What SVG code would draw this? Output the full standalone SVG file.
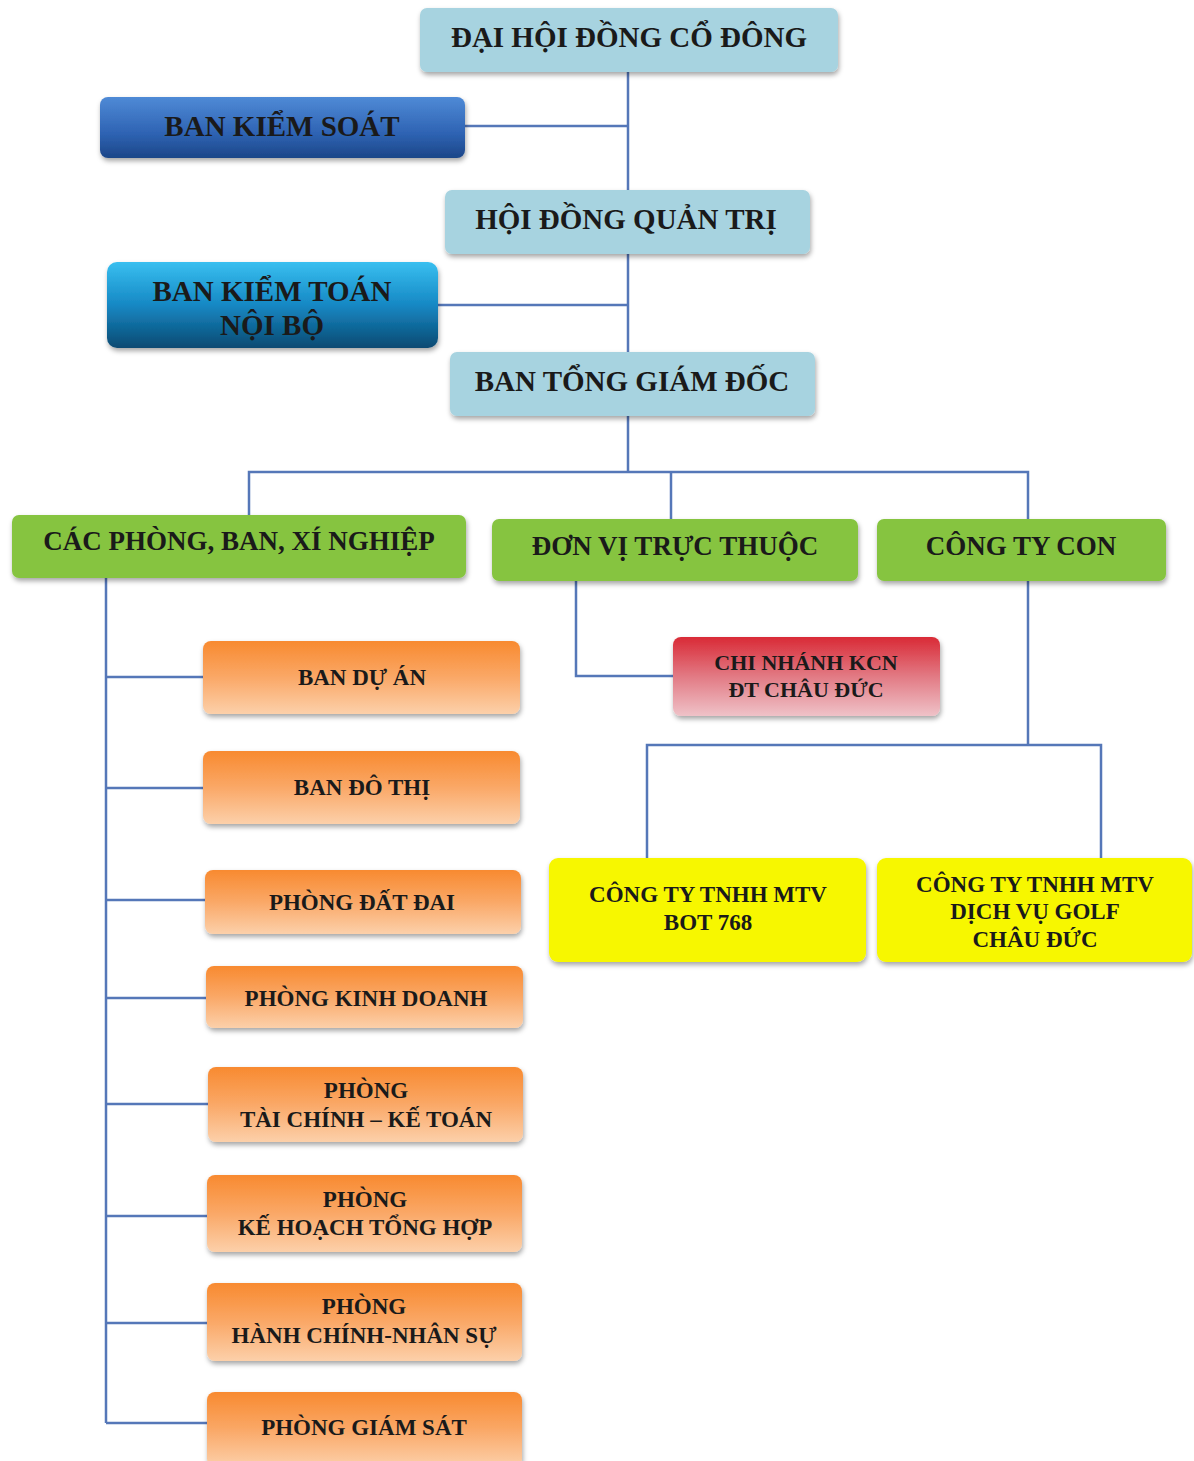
<svg xmlns="http://www.w3.org/2000/svg" width="1194" height="1461" viewBox="0 0 1194 1461">
<defs>
<filter id="sh" x="-10%" y="-20%" width="120%" height="150%">
<feDropShadow dx="1" dy="3" stdDeviation="2.5" flood-color="#000" flood-opacity="0.35"/>
</filter>
<linearGradient id="gBlue1" x1="0" y1="0" x2="0" y2="1">
<stop offset="0" stop-color="#4f8ad6"/><stop offset="0.6" stop-color="#2e63b3"/><stop offset="1" stop-color="#1c4688"/>
</linearGradient>
<linearGradient id="gBlue2" x1="0" y1="0" x2="0" y2="1">
<stop offset="0" stop-color="#38bff0"/><stop offset="0.5" stop-color="#1688c4"/><stop offset="1" stop-color="#0b4a72"/>
</linearGradient>
<linearGradient id="gOrange" x1="0" y1="0" x2="0" y2="1">
<stop offset="0" stop-color="#f88a30"/><stop offset="0.5" stop-color="#faa867"/><stop offset="1" stop-color="#fcd0aa"/>
</linearGradient>
<linearGradient id="gRed" x1="0" y1="0" x2="0" y2="1">
<stop offset="0" stop-color="#d92a36"/><stop offset="0.5" stop-color="#e27a84"/><stop offset="1" stop-color="#efc2c8"/>
</linearGradient>
<style>
.lb{fill:#a7d3e0;filter:url(#sh)}
.gr{fill:#86c441;filter:url(#sh)}
.or{fill:url(#gOrange);filter:url(#sh)}
.ye{fill:#f7f700;filter:url(#sh)}
.t{font-family:"Liberation Serif","Times New Roman",serif;font-weight:bold;fill:#1a1a1a;text-anchor:middle}
.t29{font-size:29px}
.t27{font-size:27px}
.t23{font-size:23px}
.t22{font-size:22px}
.ln{fill:none;stroke:#5577b8;stroke-width:2.5}
</style>
</defs>
<rect width="1194" height="1461" fill="#ffffff"/>

<g id="connectors">
<path class="ln" d="M628 72 V472"/>
<path class="ln" d="M465 126 H628"/>
<path class="ln" d="M438 305 H628"/>
<path class="ln" d="M249 516 V472 H1028 V520"/>
<path class="ln" d="M671 472 V520"/>
<path class="ln" d="M106 578 V1423"/>
<path class="ln" d="M106 677 H204"/>
<path class="ln" d="M106 788 H204"/>
<path class="ln" d="M106 900 H206"/>
<path class="ln" d="M106 998 H207"/>
<path class="ln" d="M106 1104 H209"/>
<path class="ln" d="M106 1216 H208"/>
<path class="ln" d="M106 1323 H208"/>
<path class="ln" d="M106 1423 H208"/>
<path class="ln" d="M576 581 V676 H674"/>
<path class="ln" d="M1028 581 V745"/>
<path class="ln" d="M647 858 V745 H1101 V858"/>
</g>

<g id="dai-hoi">
<rect class="lb" x="420" y="8" width="418" height="64" rx="7"/>
<text class="t t29" x="629" y="47">ĐẠI HỘI ĐỒNG CỔ ĐÔNG</text>
</g>
<g id="ban-kiem-soat">
<rect x="100" y="97" width="365" height="61" rx="8" fill="url(#gBlue1)" filter="url(#sh)"/>
<text class="t t29" x="282" y="136">BAN KIỂM SOÁT</text>
</g>
<g id="hdqt">
<rect class="lb" x="445" y="190" width="365" height="64" rx="7"/>
<text class="t t29" x="626" y="229">HỘI ĐỒNG QUẢN TRỊ</text>
</g>
<g id="ban-kiem-toan">
<rect x="107" y="262" width="331" height="86" rx="10" fill="url(#gBlue2)" filter="url(#sh)"/>
<text class="t t29" x="272" y="301">BAN KIỂM TOÁN</text>
<text class="t t29" x="272" y="335">NỘI BỘ</text>
</g>
<g id="tgd">
<rect class="lb" x="450" y="352" width="365" height="64" rx="7"/>
<text class="t t29" x="632" y="391">BAN TỔNG GIÁM ĐỐC</text>
</g>

<g id="cac-phong">
<rect class="gr" x="12" y="515" width="454" height="63" rx="7"/>
<text class="t t27" x="239" y="550">CÁC PHÒNG, BAN, XÍ NGHIỆP</text>
</g>
<g id="don-vi">
<rect class="gr" x="492" y="519" width="366" height="62" rx="7"/>
<text class="t t27" x="675" y="555">ĐƠN VỊ TRỰC THUỘC</text>
</g>
<g id="cong-ty-con">
<rect class="gr" x="877" y="519" width="289" height="62" rx="7"/>
<text class="t t27" x="1021" y="555">CÔNG TY CON</text>
</g>

<g id="ban-du-an">
<rect class="or" x="203" y="641" width="317" height="73" rx="8"/>
<text class="t t23" x="362" y="685">BAN DỰ ÁN</text>
</g>
<g id="ban-do-thi">
<rect class="or" x="203" y="751" width="317" height="73" rx="8"/>
<text class="t t23" x="362" y="795">BAN ĐÔ THỊ</text>
</g>
<g id="phong-dat-dai">
<rect class="or" x="205" y="870" width="316" height="64" rx="8"/>
<text class="t t23" x="362" y="910">PHÒNG ĐẤT ĐAI</text>
</g>
<g id="phong-kinh-doanh">
<rect class="or" x="206" y="966" width="317" height="62" rx="8"/>
<text class="t t23" x="366" y="1006">PHÒNG KINH DOANH</text>
</g>
<g id="phong-tai-chinh">
<rect class="or" x="208" y="1067" width="315" height="75" rx="8"/>
<text class="t t23" x="366" y="1098">PHÒNG</text>
<text class="t t23" x="366" y="1127">TÀI CHÍNH – KẾ TOÁN</text>
</g>
<g id="phong-ke-hoach">
<rect class="or" x="207" y="1175" width="315" height="77" rx="8"/>
<text class="t t23" x="365" y="1207">PHÒNG</text>
<text class="t t23" x="365" y="1235">KẾ HOẠCH TỔNG HỢP</text>
</g>
<g id="phong-hanh-chinh">
<rect class="or" x="207" y="1283" width="315" height="78" rx="8"/>
<text class="t t23" x="364" y="1314">PHÒNG</text>
<text class="t t23" x="364" y="1343">HÀNH CHÍNH-NHÂN SỰ</text>
</g>
<g id="phong-giam-sat">
<rect class="or" x="207" y="1392" width="315" height="75" rx="8"/>
<text class="t t23" x="364" y="1435">PHÒNG GIÁM SÁT</text>
</g>

<g id="chi-nhanh">
<rect x="673" y="637" width="267" height="79" rx="8" fill="url(#gRed)" filter="url(#sh)"/>
<text class="t t22" x="806" y="670">CHI NHÁNH KCN</text>
<text class="t t22" x="806" y="697">ĐT CHÂU ĐỨC</text>
</g>

<g id="bot-768">
<rect class="ye" x="549" y="858" width="317" height="104" rx="9"/>
<text class="t t23" x="708" y="902">CÔNG TY TNHH MTV</text>
<text class="t t23" x="708" y="930">BOT 768</text>
</g>
<g id="golf-chau-duc">
<rect class="ye" x="877" y="858" width="315" height="104" rx="9"/>
<text class="t t23" x="1035" y="892">CÔNG TY TNHH MTV</text>
<text class="t t23" x="1035" y="919">DỊCH VỤ GOLF</text>
<text class="t t23" x="1035" y="947">CHÂU ĐỨC</text>
</g>
</svg>
